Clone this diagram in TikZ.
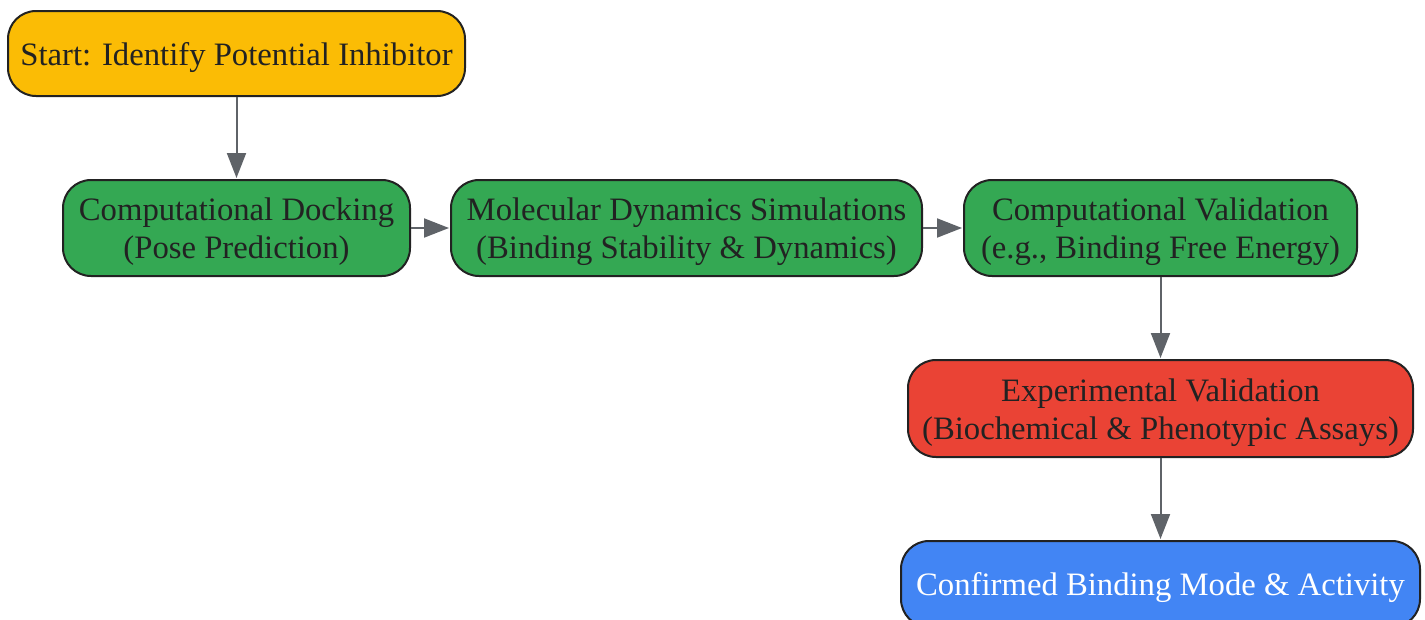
\documentclass[tikz,border=0pt]{standalone}
\usepackage{fontspec}
\setmainfont{Liberation Serif}
\usetikzlibrary{arrows.meta}
\definecolor{cyellow}{HTML}{FBBC05}
\definecolor{cgreen}{HTML}{34A853}
\definecolor{cred}{HTML}{EA4335}
\definecolor{cblue}{HTML}{4285F4}
\definecolor{cborder}{HTML}{222222}
\definecolor{carrow}{HTML}{5F6368}
\newcommand{\boxtext}[1]{\raisebox{0pt}[\dimexpr\height+8pt\relax][\depth]{\begin{tabular}{@{}c@{}}#1\end{tabular}}}
\tikzset{
  box/.style={draw=cborder, line width=2pt, rounded corners=28pt, align=center,
    text=cborder, inner sep=0pt, font=\fontsize{32.7}{38}\selectfont},
  flow/.style={draw=carrow, line width=2pt, -{Triangle[length=25pt,width=19pt]}, shorten >=1pt}
}
\begin{document}
\begin{tikzpicture}[x=1pt,y=-1pt]
\useasboundingbox (0,0) rectangle (1425,619);
\clip (0,0) rectangle (1425,619);
\node[box, fill=cyellow, minimum width=457pt, minimum height=85pt] (start) at (236.5,53.5) {\boxtext{Start: Identify Potential Inhibitor}};
\node[box, fill=cgreen, minimum width=347pt, minimum height=96pt] (dock) at (236.5,228) {\boxtext{Computational Docking\\(Pose Prediction)}};
\node[box, fill=cgreen, minimum width=471pt, minimum height=96pt] (md) at (686.5,228) {\boxtext{Molecular Dynamics Simulations\\(Binding Stability \& Dynamics)}};
\node[box, fill=cgreen, minimum width=393pt, minimum height=96pt] (cval) at (1160.5,228) {\boxtext{Computational Validation\\(e.g., Binding Free Energy)}};
\node[box, fill=cred, minimum width=505pt, minimum height=97pt] (exp) at (1160.5,408.5) {\boxtext{Experimental Validation\\(Biochemical \& Phenotypic Assays)}};
\node[box, fill=cblue, text=white, minimum width=519pt, minimum height=86pt] (conf) at (1160.5,584) {\boxtext{Confirmed Binding Mode \& Activity}};
\draw[flow] (start) -- (dock);
\draw[flow] (dock) -- (md);
\draw[flow] (md) -- (cval);
\draw[flow] (cval) -- (exp);
\draw[flow] (exp) -- (conf);
\end{tikzpicture}
\end{document}
